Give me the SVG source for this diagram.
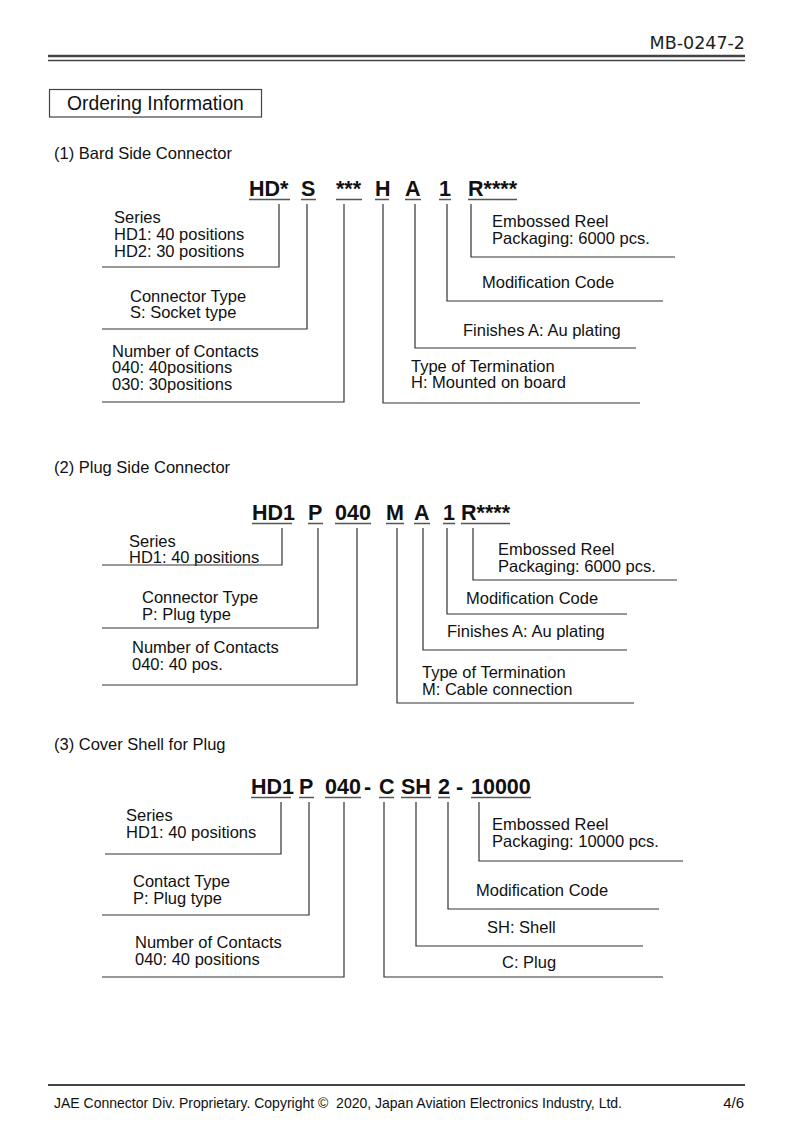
<svg xmlns="http://www.w3.org/2000/svg" width="793" height="1123" viewBox="0 0 793 1123">
<style>
.t{font-family:"Liberation Sans",Arial,sans-serif;font-size:16.5px;fill:#111}
.c{font-family:"Liberation Sans",Arial,sans-serif;font-size:21.5px;font-weight:bold;fill:#111}
.h{font-family:"Liberation Sans",Arial,sans-serif;font-size:16.5px;fill:#111}
.u{stroke:#555;stroke-width:1.6;fill:none}
.l{stroke:#333;stroke-width:1.2;fill:none}
</style>
<rect width="793" height="1123" fill="#fff"/>
<g id="header">
<text x="745" y="49" text-anchor="end" style="font-family:'DejaVu Sans',sans-serif;font-size:17.5px;fill:#222">MB-0247-2</text>
<line x1="48" y1="56" x2="745" y2="56" stroke="#444" stroke-width="2.6"/>
<line x1="48" y1="60.5" x2="745" y2="60.5" stroke="#444" stroke-width="1.6"/>
<rect x="49.5" y="89.5" width="212" height="27.5" fill="none" stroke="#444" stroke-width="1.2"/>
<text x="67" y="110" style="font-family:'Liberation Sans',Arial,sans-serif;font-size:19.3px;fill:#111">Ordering Information</text>
</g>

<!-- Section 1 -->
<g id="sec1-title"><text class="h" x="54" y="159">(1) Bard Side Connector</text></g>
<g id="sec1-code">
<text class="c" x="249" y="196">HD*</text>
<text class="c" x="301" y="196">S</text>
<text class="c" x="336" y="196">***</text>
<text class="c" x="375" y="196">H</text>
<text class="c" x="405" y="196">A</text>
<text class="c" x="439" y="196">1</text>
<text class="c" x="468" y="196">R****</text>
<path class="u" d="M249 199.5H290M301 199.5H316M336 199.5H362M375 199.5H389M405 199.5H421M439 199.5H451M468 199.5H517"/>
</g>
<g id="sec1-series"><text class="t" x="114" y="223">Series</text><text class="t" x="114" y="240">HD1: 40 positions</text><text class="t" x="114" y="257">HD2: 30 positions</text></g>
<g id="sec1-type"><text class="t" x="130" y="302">Connector Type</text><text class="t" x="130" y="318">S: Socket type</text></g>
<g id="sec1-contacts"><text class="t" x="112" y="357">Number of Contacts</text><text class="t" x="112" y="373">040: 40positions</text><text class="t" x="112" y="390">030: 30positions</text></g>
<g id="sec1-reel"><text class="t" x="492" y="227">Embossed Reel</text><text class="t" x="492" y="244">Packaging: 6000 pcs.</text></g>
<g id="sec1-mod"><text class="t" x="482" y="288">Modification Code</text></g>
<g id="sec1-finish"><text class="t" x="463" y="336">Finishes A: Au plating</text></g>
<g id="sec1-term"><text class="t" x="411" y="372">Type of Termination</text><text class="t" x="411" y="388">H: Mounted on board</text></g>

<!-- Section 2 -->
<g id="sec2-title"><text class="h" x="54" y="473">(2) Plug Side Connector</text></g>
<g id="sec2-code">
<text class="c" x="252" y="520">HD1</text>
<text class="c" x="308" y="520">P</text>
<text class="c" x="335" y="520">040</text>
<text class="c" x="386" y="520">M</text>
<text class="c" x="414" y="520">A</text>
<text class="c" x="443" y="520">1</text>
<text class="c" x="461" y="520">R****</text>
<path class="u" d="M252 523.5H292M308 523.5H323M335 523.5H371M386 523.5H404M414 523.5H430M443 523.5H455M461 523.5H510"/>
</g>
<g id="sec2-series"><text class="t" x="129" y="547">Series</text><text class="t" x="129" y="563">HD1: 40 positions</text></g>
<g id="sec2-type"><text class="t" x="142" y="603">Connector Type</text><text class="t" x="142" y="620">P: Plug type</text></g>
<g id="sec2-contacts"><text class="t" x="132" y="653">Number of Contacts</text><text class="t" x="132" y="670">040: 40 pos.</text></g>
<g id="sec2-reel"><text class="t" x="498" y="555">Embossed Reel</text><text class="t" x="498" y="572">Packaging: 6000 pcs.</text></g>
<g id="sec2-mod"><text class="t" x="466" y="604">Modification Code</text></g>
<g id="sec2-finish"><text class="t" x="447" y="637">Finishes A: Au plating</text></g>
<g id="sec2-term"><text class="t" x="422" y="678">Type of Termination</text><text class="t" x="422" y="695">M: Cable connection</text></g>

<!-- Section 3 -->
<g id="sec3-title"><text class="h" x="54" y="750">(3) Cover Shell for Plug</text></g>
<g id="sec3-code">
<text class="c" x="251" y="794">HD1</text>
<text class="c" x="299" y="794">P</text>
<text class="c" x="325" y="794">040</text>
<text class="c" x="364" y="794">-</text>
<text class="c" x="379" y="794">C</text>
<text class="c" x="401" y="794">SH</text>
<text class="c" x="438" y="794">2</text>
<text class="c" x="456" y="794">-</text>
<text class="c" x="471" y="794">10000</text>
<path class="u" d="M251 797.5H291M299 797.5H314M325 797.5H361M379 797.5H394M401 797.5H431M438 797.5H450M471 797.5H531"/>
</g>
<g id="sec3-series"><text class="t" x="126" y="821">Series</text><text class="t" x="126" y="838">HD1: 40 positions</text></g>
<g id="sec3-type"><text class="t" x="133" y="887">Contact Type</text><text class="t" x="133" y="904">P: Plug type</text></g>
<g id="sec3-contacts"><text class="t" x="135" y="948">Number of Contacts</text><text class="t" x="135" y="965">040: 40 positions</text></g>
<g id="sec3-reel"><text class="t" x="492" y="830">Embossed Reel</text><text class="t" x="492" y="847">Packaging: 10000 pcs.</text></g>
<g id="sec3-mod"><text class="t" x="476" y="896">Modification Code</text></g>
<g id="sec3-shell"><text class="t" x="487" y="933">SH: Shell</text></g>
<g id="sec3-plug"><text class="t" x="502" y="968">C: Plug</text></g>

<g id="connectors" class="l">
<path d="M279 204V267H102"/>
<path d="M307 204V329H102"/>
<path d="M344 204V402H102"/>
<path d="M383 204V403H640"/>
<path d="M415 204V348H636"/>
<path d="M447 204V301H663"/>
<path d="M471 204V257H675"/>

<path d="M282 528V565H102"/>
<path d="M318 528V628H102"/>
<path d="M357 528V685H102"/>
<path d="M397 528V703H634"/>
<path d="M423 528V650H627"/>
<path d="M447 528V614H627"/>
<path d="M473 528V580H677"/>

<path d="M281 802V854H105"/>
<path d="M309 802V915H102"/>
<path d="M344 802V977H102"/>
<path d="M384 802V977H663"/>
<path d="M416 802V946H643"/>
<path d="M448 802V909H659"/>
<path d="M479 802V861H683"/>
</g>

<g id="footer">
<line x1="48" y1="1085" x2="745" y2="1085" stroke="#444" stroke-width="2"/>
<text x="54" y="1108" style="font-family:'Liberation Sans',Arial,sans-serif;font-size:14px;fill:#111">JAE Connector Div. Proprietary. Copyright ©&#160; 2020, Japan Aviation Electronics Industry, Ltd.</text>
<text x="744" y="1108" text-anchor="end" style="font-family:'Liberation Sans',Arial,sans-serif;font-size:15px;fill:#111">4/6</text>
</g>
</svg>
